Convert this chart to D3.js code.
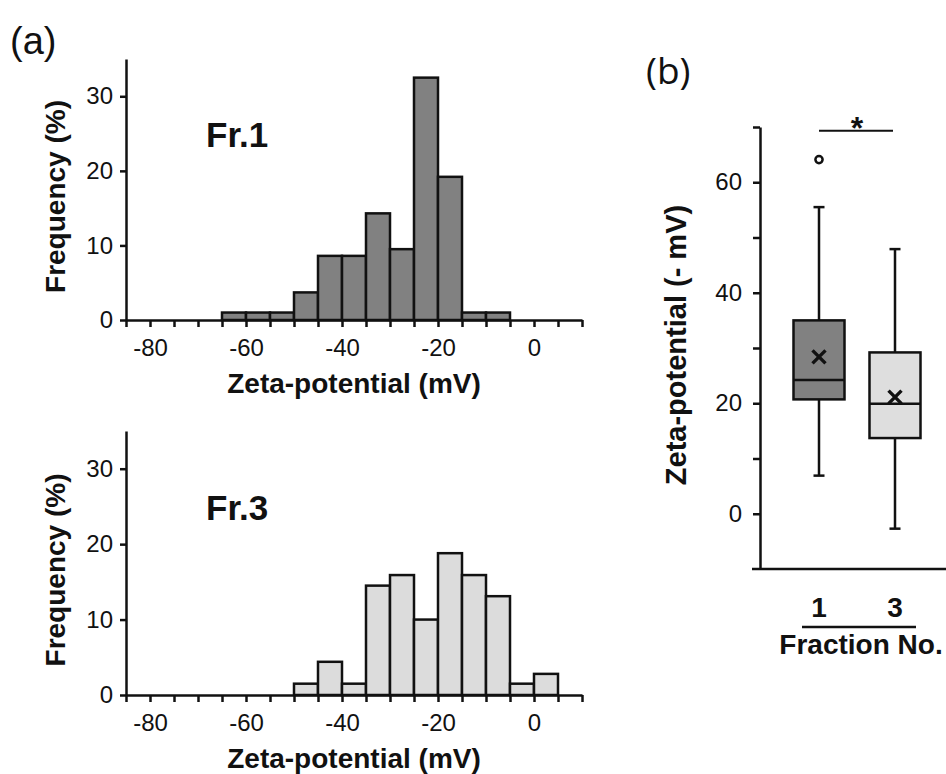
<!DOCTYPE html>
<meta charset="utf-8">
<script src="https://d3js.org/d3.v7.min.js"></script>
<style>
  body { margin: 0; background: #fff; }
  svg text { font-family: "Liberation Sans", Arial, sans-serif; fill: #111; }
  .axis path, .axis line { stroke: #111; stroke-width: 2.5; }
  .axis text { font-size: 24px; }
  .title { font-size: 28px; font-weight: bold; }
</style>
<body>
<div id="chart"></div>
<script>
// histogram data: lower edge of each 5 mV bin and frequency (%)
var fr1Bins = [-65, -60, -55, -50, -45, -40, -35, -30, -25, -20, -15, -10];
var fr1Freq = [1.0, 1.0, 1.0, 3.7, 8.6, 8.6, 14.3, 9.5, 32.5, 19.2, 1.0, 1.0];
var fr3Bins = [-50, -45, -40, -35, -30, -25, -20, -15, -10, -5, 0];
var fr3Freq = [1.5, 4.4, 1.5, 14.5, 15.9, 10.0, 18.8, 15.9, 13.1, 1.5, 2.8];
var binWidth = 5;

// box plot data (zeta-potential, -mV)
var fractions = ["1", "3"];
var boxLow   = [6.9, -2.7];
var boxQ1    = [20.7, 13.7];
var boxMed   = [24.2, 19.9];
var boxQ3    = [35.0, 29.2];
var boxHigh  = [55.5, 47.9];
var boxMean  = [28.4, 21.1];
var outliers = [{f: "1", v: 64.1}];

var svg = d3.select("#chart").append("svg")
    .attr("width", 946)
    .attr("height", 774);

// ---- panel (a): two histograms ----
var x = d3.scaleLinear().domain([-85, 10]).range([126, 582]);

function histogram(bins, freq, bottom, top, fill, label) {
  var y = d3.scaleLinear().domain([0, 35]).range([bottom, top]);
  var g = svg.append("g");

  g.selectAll("rect")
    .data(bins)
    .enter()
    .append("rect")
      .attr("x", function(d) { return x(d); })
      .attr("width", function(d) { return x(d + binWidth) - x(d); })
      .attr("y", function(d, i) { return y(freq[i]); })
      .attr("height", function(d, i) { return y(0) - y(freq[i]); })
      .attr("fill", fill)
      .attr("stroke", "#111")
      .attr("stroke-width", 2.5);

  g.append("g")
    .attr("class", "axis")
    .attr("transform", "translate(0," + bottom + ")")
    .call(d3.axisBottom(x)
      .tickValues(d3.range(-85, 11, 5))
      .tickSize(7).tickSizeOuter(0).tickPadding(12)
      .tickFormat(function(d) { return d % 20 === 0 ? String(d) : ""; }));

  g.append("g")
    .attr("class", "axis")
    .attr("transform", "translate(" + x(-85) + ",0)")
    .call(d3.axisLeft(y)
      .tickValues([0, 10, 20, 30])
      .tickSize(6).tickSizeOuter(0).tickPadding(7));

  g.append("text")
    .attr("class", "title")
    .attr("text-anchor", "middle")
    .attr("transform", "translate(65," + ((bottom + top) / 2 + 7) + ")rotate(-90)")
    .text("Frequency (%)");

  g.append("text")
    .attr("class", "title")
    .attr("text-anchor", "middle")
    .attr("x", x(-37.5))
    .attr("y", bottom + 73)
    .text("Zeta-potential (mV)");

  g.append("text")
    .attr("x", 206)
    .attr("y", y(23.2))
    .style("font-size", "35px")
    .style("font-weight", "bold")
    .text(label);
}

histogram(fr1Bins, fr1Freq, 320, 59, "#818181", "Fr.1");
histogram(fr3Bins, fr3Freq, 695, 431, "#dcdcdc", "Fr.3");

svg.append("text")
  .attr("x", 10).attr("y", 54)
  .style("font-size", "38px")
  .text("(a)");

// ---- panel (b): box plot ----
var yb = d3.scaleLinear().domain([-10, 70]).range([569, 127]);
var xb = d3.scalePoint().domain(fractions).range([819, 895]);
var boxW = 51, capW = 11;
var boxFill = ["#818181", "#dedede"];

svg.append("text")
  .attr("x", 646).attr("y", 84)
  .style("font-family", "'Open Sans', sans-serif")
  .style("font-size", "37px")
  .text("(b)");

svg.append("g")
  .attr("class", "axis")
  .attr("transform", "translate(760,0)")
  .call(d3.axisLeft(yb)
    .tickValues(d3.range(0, 71, 10))
    .tickSize(7).tickSizeOuter(0).tickPadding(11)
    .tickFormat(function(d) { return d % 20 === 0 ? String(d) : ""; }));

// horizontal base line
svg.append("line")
  .attr("x1", 752).attr("x2", 946)
  .attr("y1", yb(-10)).attr("y2", yb(-10))
  .attr("stroke", "#111").attr("stroke-width", 2.5);

var box = svg.selectAll(".box")
  .data(fractions)
  .enter()
  .append("g")
    .attr("class", "box");

// whiskers
box.append("line")
  .attr("x1", function(d) { return xb(d); })
  .attr("x2", function(d) { return xb(d); })
  .attr("y1", function(d, i) { return yb(boxHigh[i]); })
  .attr("y2", function(d, i) { return yb(boxLow[i]); })
  .attr("stroke", "#111").attr("stroke-width", 2.5);

box.each(function(d, i) {
  var g = d3.select(this);
  [boxHigh[i], boxLow[i]].forEach(function(v) {
    g.append("line")
      .attr("x1", xb(d) - capW / 2).attr("x2", xb(d) + capW / 2)
      .attr("y1", yb(v)).attr("y2", yb(v))
      .attr("stroke", "#111").attr("stroke-width", 2.5);
  });
});

box.append("rect")
  .attr("x", function(d) { return xb(d) - boxW / 2; })
  .attr("width", boxW)
  .attr("y", function(d, i) { return yb(boxQ3[i]); })
  .attr("height", function(d, i) { return yb(boxQ1[i]) - yb(boxQ3[i]); })
  .attr("fill", function(d, i) { return boxFill[i]; })
  .attr("stroke", "#111").attr("stroke-width", 2.5);

box.append("line")
  .attr("x1", function(d) { return xb(d) - boxW / 2; })
  .attr("x2", function(d) { return xb(d) + boxW / 2; })
  .attr("y1", function(d, i) { return yb(boxMed[i]); })
  .attr("y2", function(d, i) { return yb(boxMed[i]); })
  .attr("stroke", "#111").attr("stroke-width", 2.5);

// mean marker
box.append("path")
  .attr("d", function(d, i) {
    var cx = xb(d), cy = yb(boxMean[i]), s = 6.5;
    return "M" + (cx - s) + "," + (cy - s) + "L" + (cx + s) + "," + (cy + s) +
           "M" + (cx - s) + "," + (cy + s) + "L" + (cx + s) + "," + (cy - s);
  })
  .attr("stroke", "#111").attr("stroke-width", 3.4);

svg.selectAll(".outlier")
  .data(outliers)
  .enter()
  .append("circle")
    .attr("cx", function(d) { return xb(d.f); })
    .attr("cy", function(d) { return yb(d.v); })
    .attr("r", 3.6)
    .attr("fill", "#fff")
    .attr("stroke", "#111").attr("stroke-width", 2.5);

// significance bar
svg.append("line")
  .attr("x1", xb("1")).attr("x2", xb("3") - 2)
  .attr("y1", yb(69.3)).attr("y2", yb(69.3))
  .attr("stroke", "#111").attr("stroke-width", 2);
svg.append("text")
  .attr("x", (xb("1") + xb("3")) / 2).attr("y", yb(69.3) + 8)
  .attr("text-anchor", "middle")
  .style("font-size", "32px").style("font-weight", "bold")
  .text("*");

// x labels
svg.selectAll(".frac")
  .data(fractions)
  .enter()
  .append("text")
    .attr("class", "frac")
    .attr("x", function(d) { return xb(d); })
    .attr("y", 617)
    .attr("text-anchor", "middle")
    .style("font-size", "28px").style("font-weight", "bold")
    .text(function(d) { return d; });

svg.append("line")
  .attr("x1", 802).attr("x2", 916)
  .attr("y1", 627).attr("y2", 627)
  .attr("stroke", "#111").attr("stroke-width", 2.5);

svg.append("text")
  .attr("class", "title")
  .attr("x", 861).attr("y", 654)
  .attr("text-anchor", "middle")
  .text("Fraction No.");

svg.append("text")
  .attr("class", "title")
  .attr("text-anchor", "middle")
  .attr("transform", "translate(686," + 345 + ")rotate(-90)")
  .style("font-size", "29px")
  .text("Zeta-potential (- mV)");
</script>
</body>
